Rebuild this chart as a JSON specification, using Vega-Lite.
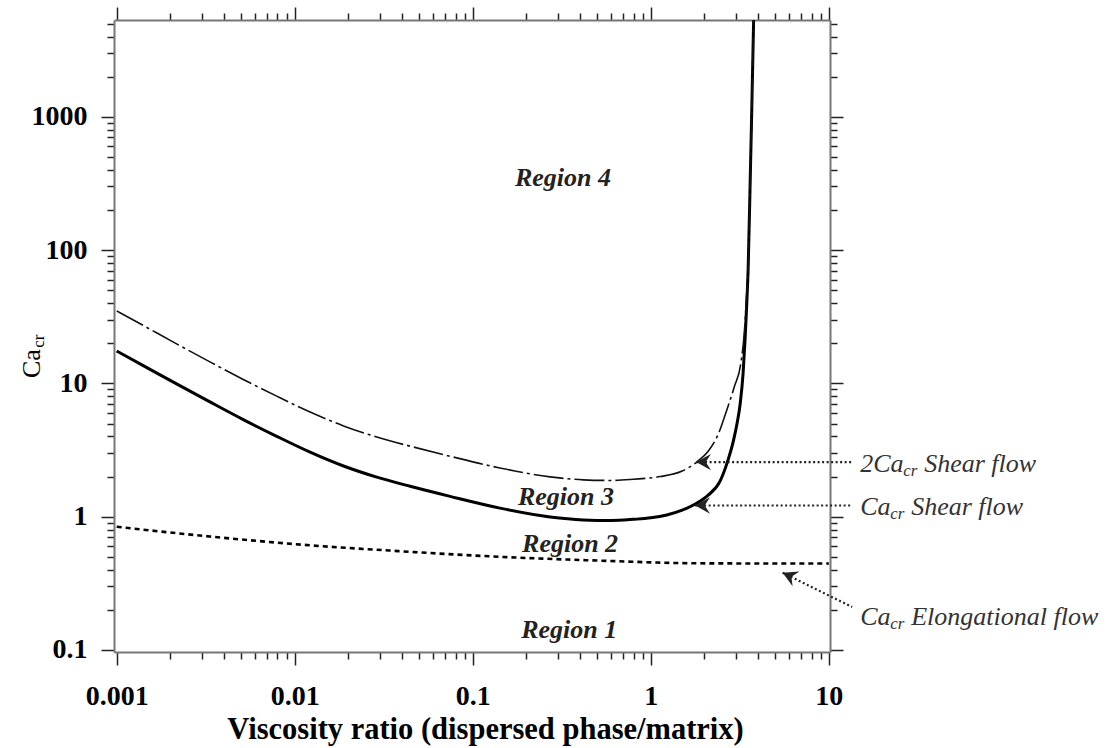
{
  "$schema": "https://vega.github.io/schema/vega-lite/v6.json",
  "autosize": {"type": "none"},
  "width": 716,
  "height": 632,
  "padding": {"left": 114, "top": 20, "right": 277, "bottom": 96},
  "background": "white",
  "config": {
    "view": {"stroke": null},
    "axis": {
      "grid": false,
      "domainColor": "#777777",
      "domainWidth": 2,
      "tickColor": "#222222",
      "tickWidth": 1.5,
      "labelFont": "Liberation Serif",
      "labelFontWeight": "bold",
      "labelFontSize": 28,
      "labelColor": "#000000",
      "labelFlush": false,
      "labelOverlap": false,
      "titleFont": "Liberation Serif",
      "titleColor": "#000000"
    }
  },
  "datasets": {
    "curves": [
      {"s": "ca", "x": 0.001, "y": 17.5},
      {"s": "ca", "x": 0.00141, "y": 13.6},
      {"s": "ca", "x": 0.00217, "y": 9.91},
      {"s": "ca", "x": 0.00334, "y": 7.26},
      {"s": "ca", "x": 0.00514, "y": 5.35},
      {"s": "ca", "x": 0.00792, "y": 4.01},
      {"s": "ca", "x": 0.0122, "y": 3.05},
      {"s": "ca", "x": 0.0188, "y": 2.4},
      {"s": "ca", "x": 0.0289, "y": 1.98},
      {"s": "ca", "x": 0.0445, "y": 1.69},
      {"s": "ca", "x": 0.0746, "y": 1.42},
      {"s": "ca", "x": 0.142, "y": 1.16},
      {"s": "ca", "x": 0.272, "y": 0.995},
      {"s": "ca", "x": 0.418, "y": 0.946},
      {"s": "ca", "x": 0.6, "y": 0.936},
      {"s": "ca", "x": 0.798, "y": 0.955},
      {"s": "ca", "x": 1.0, "y": 0.98},
      {"s": "ca", "x": 1.23, "y": 1.03},
      {"s": "ca", "x": 1.5, "y": 1.12},
      {"s": "ca", "x": 1.81, "y": 1.26},
      {"s": "ca", "x": 2.1, "y": 1.45},
      {"s": "ca", "x": 2.45, "y": 1.85},
      {"s": "ca", "x": 2.7, "y": 2.6},
      {"s": "ca", "x": 2.91, "y": 3.7},
      {"s": "ca", "x": 3.05, "y": 5.0},
      {"s": "ca", "x": 3.18, "y": 7.1},
      {"s": "ca", "x": 3.3, "y": 12},
      {"s": "ca", "x": 3.39, "y": 22.4},
      {"s": "ca", "x": 3.46, "y": 40},
      {"s": "ca", "x": 3.52, "y": 70.8},
      {"s": "ca", "x": 3.61, "y": 299},
      {"s": "ca", "x": 3.68, "y": 946},
      {"s": "ca", "x": 3.78, "y": 5300},
      {"s": "ca2", "x": 0.001, "y": 35},
      {"s": "ca2", "x": 0.00141, "y": 27.2},
      {"s": "ca2", "x": 0.00217, "y": 19.8},
      {"s": "ca2", "x": 0.00334, "y": 14.5},
      {"s": "ca2", "x": 0.00514, "y": 10.7},
      {"s": "ca2", "x": 0.00792, "y": 8.02},
      {"s": "ca2", "x": 0.0122, "y": 6.1},
      {"s": "ca2", "x": 0.0188, "y": 4.8},
      {"s": "ca2", "x": 0.0289, "y": 3.96},
      {"s": "ca2", "x": 0.0445, "y": 3.38},
      {"s": "ca2", "x": 0.0746, "y": 2.84},
      {"s": "ca2", "x": 0.142, "y": 2.32},
      {"s": "ca2", "x": 0.272, "y": 1.99},
      {"s": "ca2", "x": 0.418, "y": 1.89},
      {"s": "ca2", "x": 0.6, "y": 1.87},
      {"s": "ca2", "x": 0.798, "y": 1.91},
      {"s": "ca2", "x": 1.13, "y": 2.0},
      {"s": "ca2", "x": 1.5, "y": 2.2},
      {"s": "ca2", "x": 1.81, "y": 2.57},
      {"s": "ca2", "x": 2.1, "y": 3.1},
      {"s": "ca2", "x": 2.4, "y": 4.2},
      {"s": "ca2", "x": 2.67, "y": 6.3},
      {"s": "ca2", "x": 2.95, "y": 9.5},
      {"s": "ca2", "x": 3.2, "y": 14},
      {"s": "ca2", "x": 3.35, "y": 24},
      {"s": "ca2", "x": 3.45, "y": 45},
      {"s": "ca2", "x": 3.53, "y": 80},
      {"s": "ca2", "x": 3.61, "y": 300},
      {"s": "ca2", "x": 3.68, "y": 946},
      {"s": "ca2", "x": 3.78, "y": 5300},
      {"s": "el", "x": 0.001, "y": 0.84},
      {"s": "el", "x": 0.00334, "y": 0.71},
      {"s": "el", "x": 0.0122, "y": 0.61},
      {"s": "el", "x": 0.0357, "y": 0.555},
      {"s": "el", "x": 0.142, "y": 0.5},
      {"s": "el", "x": 0.52, "y": 0.468},
      {"s": "el", "x": 1.89, "y": 0.447},
      {"s": "el", "x": 10, "y": 0.445}
    ],
    "arrows": [
      {"id": "a1", "x": 1.797, "y": 2.57},
      {"id": "a1", "x": 13.52, "y": 2.57},
      {"id": "a2", "x": 1.774, "y": 1.213},
      {"id": "a2", "x": 13.52, "y": 1.213},
      {"id": "a3", "x": 5.5, "y": 0.38},
      {"id": "a3", "x": 13.52, "y": 0.21}
    ],
    "heads": [
      {"id": "a1", "x": 1.797, "y": 2.57},
      {"id": "a2", "x": 1.774, "y": 1.213}
    ],
    "diaghead": [
      {"id": "a3", "x": 5.5, "y": 0.38}
    ],
    "regions": [
      {"x": 0.321, "y": 302.7, "t": "Region 4"},
      {"x": 0.334, "y": 1.224, "t": "Region 3"},
      {"x": 0.352, "y": 0.546, "t": "Region 2"},
      {"x": 0.348, "y": 0.123, "t": "Region 1"}
    ],
    "annmain": [
      {"x": 14.99, "y": 2.176, "t": "2Ca"},
      {"x": 34.3, "y": 2.176, "t": "Shear flow"},
      {"x": 14.99, "y": 1.03, "t": "Ca"},
      {"x": 29.0, "y": 1.03, "t": "Shear flow"},
      {"x": 14.99, "y": 0.154, "t": "Ca"},
      {"x": 29.0, "y": 0.154, "t": "Elongational flow"}
    ],
    "annsub": [
      {"x": 26.15, "y": 2.176, "t": "cr"},
      {"x": 22.1, "y": 1.03, "t": "cr"},
      {"x": 22.1, "y": 0.154, "t": "cr"}
    ],
    "ytitle": [
      {"x": 0.000371, "y": 10.98, "t": "Ca"}
    ],
    "ytitlesub": [
      {"x": 0.000371, "y": 18.5, "t": "cr"}
    ]
  },
  "encoding": {
    "x": {"field": "x", "type": "quantitative", "scale": {"type": "log", "domain": [0.000966, 10.15], "nice": false}, "axis": null},
    "y": {"field": "y", "type": "quantitative", "scale": {"type": "log", "domain": [0.0966, 5320], "nice": false}, "axis": null}
  },
  "resolve": {"axis": {"x": "independent", "y": "independent"}},
  "layer": [
    {
      "data": {"name": "curves"},
      "transform": [{"filter": "datum.s == 'ca'"}],
      "mark": {"type": "line", "color": "#000000", "strokeWidth": 3, "interpolate": "monotone", "clip": true},
      "encoding": {
        "x": {"field": "x", "type": "quantitative", "scale": {"type": "log", "domain": [0.000966, 10.15], "nice": false},
          "axis": {"orient": "bottom",
            "values": [0.001,0.002,0.003,0.004,0.005,0.006,0.007,0.008,0.009,0.01,0.02,0.03,0.04,0.05,0.06,0.07,0.08,0.09,0.1,0.2,0.3,0.4,0.5,0.6,0.7,0.8,0.9,1,2,3,4,5,6,7,8,9,10],
            "format": "~g",
            "labelExpr": "abs(log(datum.value)/LN10 - round(log(datum.value)/LN10)) < 0.001 ? datum.label : ''",
            "tickSize": {"condition": {"test": "abs(log(datum.value)/LN10 - round(log(datum.value)/LN10)) < 0.001", "value": 13}, "value": 7},
            "labelPadding": 17,
            "title": "Viscosity ratio (dispersed phase/matrix)",
            "titleFontSize": 30.5,
            "titleFontWeight": "bold",
            "titleX": 371,
            "titleY": 86,
            "titleAlign": "center",
            "titleBaseline": "alphabetic"}},
        "y": {"field": "y", "type": "quantitative", "scale": {"type": "log", "domain": [0.0966, 5320], "nice": false},
          "axis": {"orient": "left",
            "values": [0.1,0.2,0.3,0.4,0.5,0.6,0.7,0.8,0.9,1,2,3,4,5,6,7,8,9,10,20,30,40,50,60,70,80,90,100,200,300,400,500,600,700,800,900,1000,2000,3000,4000,5000],
            "format": "~g",
            "labelExpr": "abs(log(datum.value)/LN10 - round(log(datum.value)/LN10)) < 0.001 ? datum.label : ''",
            "tickSize": {"condition": {"test": "abs(log(datum.value)/LN10 - round(log(datum.value)/LN10)) < 0.001", "value": 13}, "value": 7},
            "labelPadding": 14,
            "title": null}}
      }
    },
    {
      "data": {"name": "curves"},
      "transform": [{"filter": "datum.s == 'ca2'"}],
      "mark": {"type": "line", "color": "#111111", "strokeWidth": 1.6, "strokeDash": [30, 4, 3, 4], "interpolate": "monotone", "clip": true},
      "encoding": {
        "x": {"field": "x", "type": "quantitative", "scale": {"type": "log", "domain": [0.000966, 10.15], "nice": false},
          "axis": {"orient": "top",
            "values": [0.001,0.002,0.003,0.004,0.005,0.006,0.007,0.008,0.009,0.01,0.02,0.03,0.04,0.05,0.06,0.07,0.08,0.09,0.1,0.2,0.3,0.4,0.5,0.6,0.7,0.8,0.9,1,2,3,4,5,6,7,8,9,10],
            "labels": false,
            "tickSize": {"condition": {"test": "abs(log(datum.value)/LN10 - round(log(datum.value)/LN10)) < 0.001", "value": 13}, "value": 7},
            "title": null}},
        "y": {"field": "y", "type": "quantitative", "scale": {"type": "log", "domain": [0.0966, 5320], "nice": false},
          "axis": {"orient": "right",
            "values": [0.1,0.2,0.3,0.4,0.5,0.6,0.7,0.8,0.9,1,2,3,4,5,6,7,8,9,10,20,30,40,50,60,70,80,90,100,200,300,400,500,600,700,800,900,1000,2000,3000,4000,5000],
            "labels": false,
            "tickSize": {"condition": {"test": "abs(log(datum.value)/LN10 - round(log(datum.value)/LN10)) < 0.001", "value": 13}, "value": 7},
            "title": null}}
      }
    },
    {
      "data": {"name": "curves"},
      "transform": [{"filter": "datum.s == 'el'"}],
      "mark": {"type": "line", "color": "#000000", "strokeWidth": 2.6, "strokeDash": [5, 4], "interpolate": "monotone", "clip": true}
    },
    {
      "data": {"name": "arrows"},
      "mark": {"type": "line", "color": "#222222", "strokeWidth": 2.2, "strokeDash": [2, 2.5], "clip": false},
      "encoding": {
        "detail": {"field": "id"}
      }
    },
    {
      "data": {"name": "heads"},
      "mark": {"type": "point", "shape": "M0,0 L2,-1.1 L1.3,0 L2,1.1 Z", "size": 220, "filled": true, "color": "#222222", "opacity": 1, "clip": false}
    },
    {
      "data": {"name": "diaghead"},
      "mark": {"type": "point", "shape": "M0,0 L2,-1.1 L1.3,0 L2,1.1 Z", "size": 220, "filled": true, "color": "#222222", "opacity": 1, "angle": 25, "clip": false}
    },
    {
      "data": {"name": "regions"},
      "mark": {"type": "text", "font": "Liberation Serif", "fontWeight": "bold", "fontStyle": "italic", "fontSize": 26, "color": "#222222", "align": "center", "baseline": "alphabetic"},
      "encoding": {"text": {"field": "t"}}
    },
    {
      "data": {"name": "annmain"},
      "mark": {"type": "text", "font": "Liberation Serif", "fontStyle": "italic", "fontSize": 26, "color": "#333333", "align": "left", "baseline": "alphabetic", "clip": false},
      "encoding": {"text": {"field": "t"}}
    },
    {
      "data": {"name": "annsub"},
      "mark": {"type": "text", "font": "Liberation Serif", "fontStyle": "italic", "fontSize": 17, "color": "#333333", "align": "left", "baseline": "alphabetic", "dy": 4, "clip": false},
      "encoding": {"text": {"field": "t"}}
    },
    {
      "data": {"name": "ytitle"},
      "mark": {"type": "text", "font": "Liberation Serif", "fontSize": 26, "color": "#000000", "align": "left", "baseline": "alphabetic", "angle": 270, "clip": false},
      "encoding": {"text": {"field": "t"}}
    },
    {
      "data": {"name": "ytitlesub"},
      "mark": {"type": "text", "font": "Liberation Serif", "fontSize": 17, "color": "#000000", "align": "left", "baseline": "alphabetic", "angle": 270, "dy": 4, "clip": false},
      "encoding": {"text": {"field": "t"}}
    }
  ]
}
